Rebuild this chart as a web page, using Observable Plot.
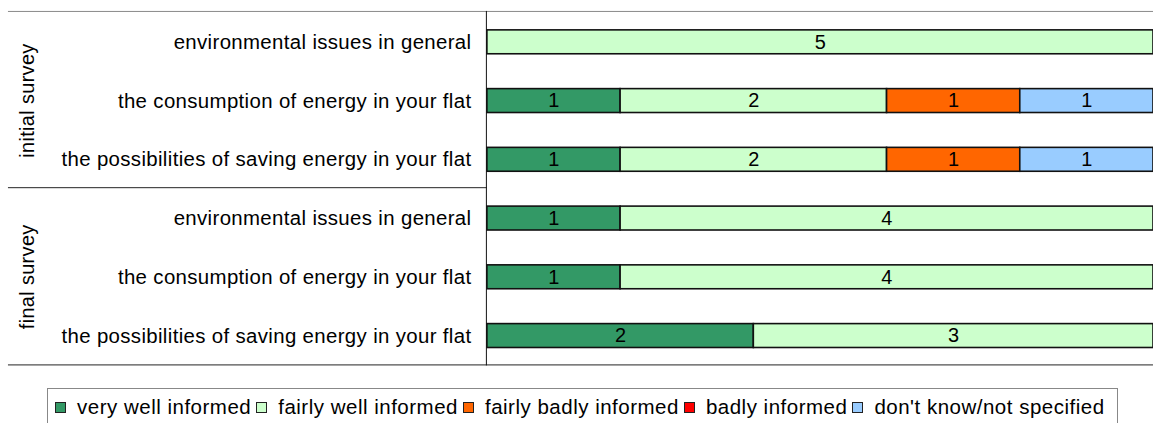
<!DOCTYPE html>
<html>
<head>
<meta charset="utf-8">
<script src="https://cdn.jsdelivr.net/npm/d3@7"></script>
<script src="https://cdn.jsdelivr.net/npm/@observablehq/plot@0.6"></script>
<style>
  html, body { margin: 0; padding: 0; background: #fff; overflow: hidden; }
  body { font-family: "Liberation Sans", Arial, sans-serif; }
  #legend {
    position: absolute; left: 47px; top: 388px; width: 1071px; height: 60px;
    border: 1px solid #888; box-sizing: border-box;
    display: flex; align-items: flex-start; padding: 6px 0 0 7px;
    font-size: 20.5px; letter-spacing: 0.5px; color: #000; white-space: nowrap;
  }
  #legend .item { display: flex; align-items: center; margin-right: 5px; }
  #legend .sw { width: 9px; height: 9px; border: 1px solid #222; margin-right: 11px; }
</style>
</head>
<body>
<div id="chart"></div>
<div id="legend"></div>
<script>
// Survey answers: number of respondents per information level
const surveys = ["initial survey", "final survey"];
const questions = [
  "environmental issues in general",
  "the consumption of energy in your flat",
  "the possibilities of saving energy in your flat"
];
const levels = [
  "very well informed",
  "fairly well informed",
  "fairly badly informed",
  "badly informed",
  "don't know/not specified"
];
const levelColors = ["#339966", "#CCFFCC", "#FF6600", "#FF0000", "#99CCFF"];

// counts per question, in the order of `levels`
const initialCounts = [
  [0, 5, 0, 0, 0],
  [1, 2, 1, 0, 1],
  [1, 2, 1, 0, 1]
];
const finalCounts = [
  [1, 4, 0, 0, 0],
  [1, 4, 0, 0, 0],
  [2, 3, 0, 0, 0]
];

const rows = [];
[initialCounts, finalCounts].forEach((table, si) => {
  table.forEach((counts, qi) => {
    counts.forEach((count, li) => {
      if (count > 0) rows.push({survey: surveys[si], question: questions[qi], level: levels[li], count});
    });
  });
});

const marginLeft = 489, marginTop = 11, marginBottom = 10, height = 376;

const chart = Plot.plot({
  width: 1158,
  height,
  marginLeft,
  marginRight: 0,
  marginTop,
  marginBottom,
  style: {fontFamily: "'Liberation Sans', Arial, sans-serif", fontSize: "20px", color: "#000", background: "#fff", letterSpacing: "0.35px"},
  x: {domain: [0, 5], axis: null},
  y: {domain: questions, paddingInner: 0.595, paddingOuter: 0.2975, label: null},
  fy: {domain: surveys, padding: 0, axis: null},
  facet: {marginTop: 0, marginBottom: 0},
  color: {domain: levels, range: levelColors},
  marks: [
    Plot.axisY({tickSize: 0, tickPadding: 16, fontSize: 20.5, label: null}),
    Plot.barX(rows, Plot.stackX({
      x: "count", y: "question", fy: "survey", fill: "level", z: "level",
      order: levels, stroke: "#111", strokeWidth: 1.6
    })),
    Plot.text(rows, Plot.stackX({
      x: "count", y: "question", fy: "survey", z: "level", text: "count",
      order: levels, fill: "#000", fontSize: 20
    })),
    Plot.text(surveys, {
      fy: d => d, text: d => d, frameAnchor: "left", textAnchor: "middle",
      dx: -462, rotate: -90, fontSize: 20, fill: "#000"
    })
  ]
});
document.getElementById("chart").appendChild(chart);

// Table-style grid lines around the category labels
const svg = d3.select(chart);
const bottom = height - marginBottom;
const mid = (marginTop + bottom) / 2;
const g = svg.append("g").attr("fill", "none");
g.append("line").attr("x1", 8).attr("x2", 1158).attr("y1", marginTop + 0.5).attr("y2", marginTop + 0.5).attr("stroke", "#888");
g.append("line").attr("x1", 8).attr("x2", 1158).attr("y1", bottom + 0.5).attr("y2", bottom + 0.5).attr("stroke", "#222");
g.append("line").attr("x1", 8).attr("x2", marginLeft).attr("y1", mid).attr("y2", mid).attr("stroke", "#222");
g.append("line").attr("x1", marginLeft - 0.5).attr("x2", marginLeft - 0.5).attr("y1", marginTop).attr("y2", bottom + 1).attr("stroke", "#111");

// Legend
const legend = d3.select("#legend");
levels.forEach((name, i) => {
  const item = legend.append("div").attr("class", "item");
  item.append("div").attr("class", "sw").style("background", levelColors[i]);
  item.append("span").text(name);
});
</script>
</body>
</html>
